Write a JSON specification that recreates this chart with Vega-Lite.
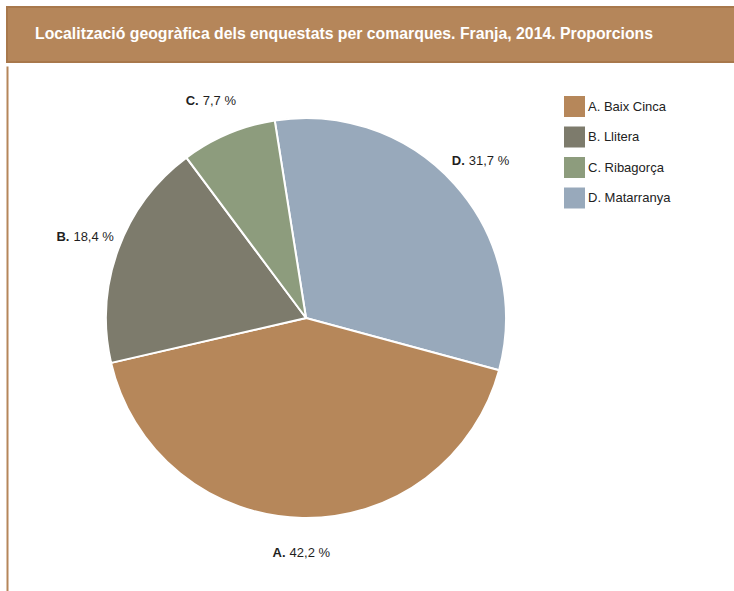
{
  "$schema": "https://vega.github.io/schema/vega-lite/v6.json",
  "padding": {"left": 6, "top": 6, "right": 0, "bottom": 0},
  "background": "white",
  "spacing": 0,
  "config": {"view": {"stroke": null}, "font": "Liberation Sans"},
  "datasets": {
    "comarques": [
      {"lletra": "D.", "nom": "D. Matarranya", "percent": 31.7, "ordre": 1, "valor": "31,7 %"},
      {"lletra": "A.", "nom": "A. Baix Cinca", "percent": 42.2, "ordre": 2, "valor": "42,2 %"},
      {"lletra": "B.", "nom": "B. Llitera", "percent": 18.4, "ordre": 3, "valor": "18,4 %"},
      {"lletra": "C.", "nom": "C. Ribagorça", "percent": 7.7, "ordre": 4, "valor": "7,7 %"}
    ]
  },
  "vconcat": [
    {
      "width": 728,
      "height": 55,
      "view": {"fill": "#B5865A", "stroke": "#A8784C", "strokeWidth": 2},
      "data": {"values": [{"titol": "Localització geogràfica dels enquestats per comarques. Franja, 2014. Proporcions"}]},
      "mark": {"type": "text", "color": "white", "fontWeight": "bold", "fontSize": 15.8, "align": "center", "baseline": "middle", "dx": -27, "dy": -1},
      "encoding": {"text": {"field": "titol"}}
    },
    {
      "width": 598,
      "height": 530,
      "data": {"name": "comarques"},
      "layer": [
        {
          "mark": {"type": "point", "opacity": 0},
          "encoding": {
            "y": {"datum": 0, "type": "quantitative", "axis": {"domainColor": "#B5865A", "domainWidth": 2, "ticks": false, "labels": false, "title": null, "grid": false}}
          }
        },
        {
          "mark": {"type": "arc", "outerRadius": 200, "stroke": "white", "strokeWidth": 2, "yOffset": -13},
          "encoding": {
            "theta": {"field": "percent", "type": "quantitative", "stack": true, "scale": {"range": [-0.1571, 6.1261]}},
            "order": {"field": "ordre", "type": "quantitative"},
            "color": {
              "field": "nom",
              "type": "nominal",
              "scale": {"domain": ["A. Baix Cinca", "B. Llitera", "C. Ribagorça", "D. Matarranya"], "range": ["#B6875A", "#7D7B6C", "#8D9C7D", "#98A9BB"]},
              "legend": {"title": null, "orient": "none", "legendX": 557, "legendY": 89, "symbolType": "square", "symbolSize": 441, "symbolStrokeWidth": 0, "symbolOpacity": 1, "labelFontSize": 13, "labelColor": "#222222", "rowPadding": 9.5, "labelOffset": 3, "labelFont": "Liberation Sans"}
            }
          }
        },
        {
          "mark": {"type": "text", "radius": 235, "yOffset": -13, "align": "right", "baseline": "middle", "dx": -16, "fontWeight": "bold", "fontSize": 13, "color": "#1f1f1f"},
          "encoding": {
            "theta": {"field": "percent", "type": "quantitative", "stack": true, "scale": {"range": [-0.1571, 6.1261]}},
            "order": {"field": "ordre", "type": "quantitative"},
            "text": {"field": "lletra"}
          }
        },
        {
          "mark": {"type": "text", "radius": 235, "yOffset": -13, "align": "left", "baseline": "middle", "dx": -12, "fontSize": 13, "color": "#1f1f1f"},
          "encoding": {
            "theta": {"field": "percent", "type": "quantitative", "stack": true, "scale": {"range": [-0.1571, 6.1261]}},
            "order": {"field": "ordre", "type": "quantitative"},
            "text": {"field": "valor"}
          }
        }
      ]
    }
  ]
}
